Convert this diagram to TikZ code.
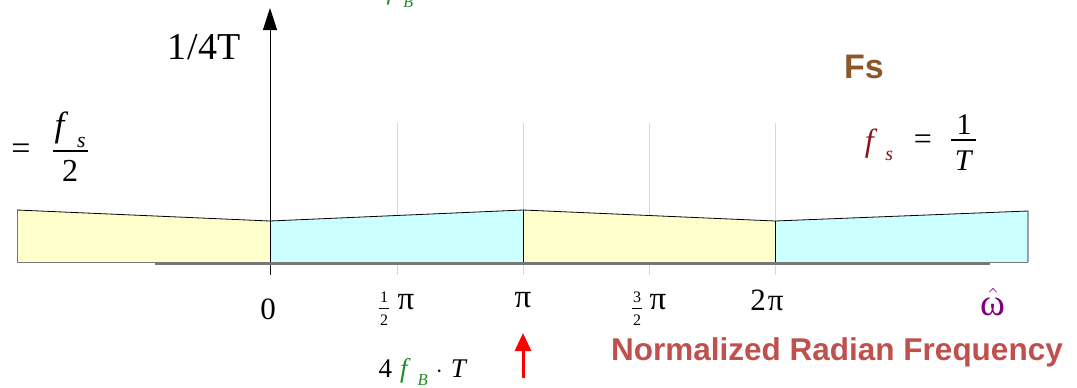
\documentclass[tikz,border=0pt]{standalone}
\usepackage{fontspec}
\setmainfont{Liberation Serif}
\newfontfamily\sansbold{Liberation Sans}
\usetikzlibrary{arrows.meta}
\definecolor{bandyel}{RGB}{255,255,204}
\definecolor{bandcyan}{RGB}{204,255,255}
\definecolor{fbgreen}{RGB}{34,139,34}
\definecolor{fsred}{RGB}{139,20,20}
\definecolor{fsbrown}{RGB}{139,87,42}
\definecolor{nrfred}{RGB}{192,80,77}
\definecolor{omegapurple}{RGB}{128,0,128}
\definecolor{gridgray}{RGB}{215,215,215}
\definecolor{basegray}{RGB}{120,120,120}
\newcommand\mysub[2]{\textit{#1}\hspace{0.25em}\raisebox{-0.3em}{\scalebox{0.62}{\textit{#2}}}}
\tikzset{
  gridline/.style={draw=gridgray, line width=1pt},
  bandedge/.style={draw=black, line width=0.8pt},
  bandbottom/.style={draw=basegray, line width=1pt},
  lbl/.style={inner sep=0pt, font=\fontsize{28}{30}\selectfont},
  smallnum/.style={inner sep=0pt, font=\fontsize{16}{17}\selectfont},
  bar/.style={line width=2.2pt},
}
\begin{document}
\begin{tikzpicture}[x=1pt,y=-1pt]
\useasboundingbox (0,0) rectangle (1077,388);
% grid lines
\foreach \gx/\gn in {397/g1,523/g2,649/g3,775/g4}{
  \coordinate (\gn t) at (\gx,123);
  \coordinate (\gn b) at (\gx,275);
  \draw[gridline] (\gn t) -- (\gn b);
}
% axis
\coordinate (axb) at (270,275);
\coordinate (axt) at (270,8);
\draw[line width=1pt, -{Triangle[length=22pt,width=14pt]}] (axb) -- (axt);
% baseline
\coordinate (bl0) at (155,263.5);
\coordinate (bl1) at (990,263.5);
\draw[draw=basegray, line width=3pt] (bl0) -- (bl1);
% bands
\coordinate (p0t) at (17,210); \coordinate (p0b) at (17,262);
\coordinate (p1t) at (270,221); \coordinate (p1b) at (270,262);
\coordinate (p2t) at (523,210); \coordinate (p2b) at (523,262);
\coordinate (p3t) at (775,221); \coordinate (p3b) at (775,262);
\coordinate (p4t) at (1028,211); \coordinate (p4b) at (1028,262);
\fill[bandyel] (p0b) -- (p0t) -- (p1t) -- (p1b) -- cycle;
\fill[bandcyan] (p1b) -- (p1t) -- (p2t) -- (p2b) -- cycle;
\fill[bandyel] (p2b) -- (p2t) -- (p3t) -- (p3b) -- cycle;
\fill[bandcyan] (p3b) -- (p3t) -- (p4t) -- (p4b) -- cycle;
\draw[bandbottom] (p0b) -- (p4b);
\draw[bandbottom] (p0b) -- (p0t);
\draw[bandedge] (p0t) -- (p1t) -- (p2t) -- (p3t) -- (p4t) -- (p4b);
\draw[bandedge] (p1t) -- (p1b);
\draw[bandedge] (p2t) -- (p2b);
\draw[bandedge] (p3t) -- (p3b);
% top labels
\node[inner sep=0pt, font=\fontsize{38}{40}\selectfont] (quarter) at (204,47) {1\kern1pt/\kern1pt4T};
\node[lbl, text=fbgreen, font=\fontsize{26}{28}\selectfont] (fbtop) at (400,-6) {\mysub{f}{B}};
% left fs/2
\node[lbl, font=\fontsize{34}{36}\selectfont] (eqL) at (21,152) {=};
\node[lbl, font=\fontsize{35}{36}\selectfont] (fsL) at (70,130) {\mysub{f}{s}};
\coordinate (barL0) at (53,151); \coordinate (barL1) at (88,151);
\draw[bar] (barL0) -- (barL1);
\node[lbl, font=\fontsize{32}{34}\selectfont] (twoL) at (70,171) {2};
% right
\node[inner sep=0pt, text=fsbrown, font=\sansbold\bfseries\fontsize{34}{36}\selectfont] (Fs) at (864,67) {Fs};
\node[lbl, text=fsred, font=\fontsize{32}{34}\selectfont] (fsR) at (879,145) {\mysub{f}{s}};
\node[lbl, font=\fontsize{32}{34}\selectfont] (eqR) at (923,142) {=};
\node[lbl, font=\fontsize{30}{32}\selectfont] (oneR) at (964,125) {1};
\coordinate (barR0) at (951,140); \coordinate (barR1) at (976,140);
\draw[bar] (barR0) -- (barR1);
\node[lbl, font=\fontsize{30}{32}\selectfont] (TR) at (964,161) {\textit{T}};
% tick labels
\node[lbl, font=\fontsize{31}{32}\selectfont] (t0) at (268,309) {0};
\node[smallnum] (h1n) at (384,297) {1};
\coordinate (h1a) at (379,308.5); \coordinate (h1b) at (389,308.5);
\draw[line width=0.8pt] (h1a) -- (h1b);
\node[smallnum] (h1d) at (384,320) {2};
\node[lbl, font=\fontsize{33}{34}\selectfont] (h1p) at (406,302) {π};
\node[lbl, font=\fontsize{33}{34}\selectfont] (tpi) at (523,300) {π};
\node[smallnum] (h3n) at (637,297) {3};
\coordinate (h3a) at (632,308.5); \coordinate (h3b) at (642,308.5);
\draw[line width=0.8pt] (h3a) -- (h3b);
\node[smallnum] (h3d) at (637,320) {2};
\node[lbl, font=\fontsize{33}{34}\selectfont] (h3p) at (658,302) {π};
\node[lbl, font=\fontsize{31}{32}\selectfont] (t2pi) at (767,300) {2\kern2ptπ};
\node[lbl, text=omegapurple] (omega) at (993,302) {\scalebox{1.35}{$\hat{\mbox{ω}}$}};
% bottom
\coordinate (ra0) at (523,378);
\coordinate (ra1) at (523,333);
\draw[red, line width=3pt, -{Triangle[length=18pt,width=16pt]}] (ra0) -- (ra1);
\node[lbl, font=\fontsize{27}{29}\selectfont] (fbT) at (423,372) {4\hspace{0.3em}{\color{fbgreen}\mysub{f}{B}}\hspace{0.3em}$\cdot$\hspace{0.3em}\textit{T}};
\node[inner sep=0pt, text=nrfred, font=\sansbold\bfseries\fontsize{31.5}{33}\selectfont] (nrf) at (837,352) {Normalized Radian Frequency};
\end{tikzpicture}
\end{document}
